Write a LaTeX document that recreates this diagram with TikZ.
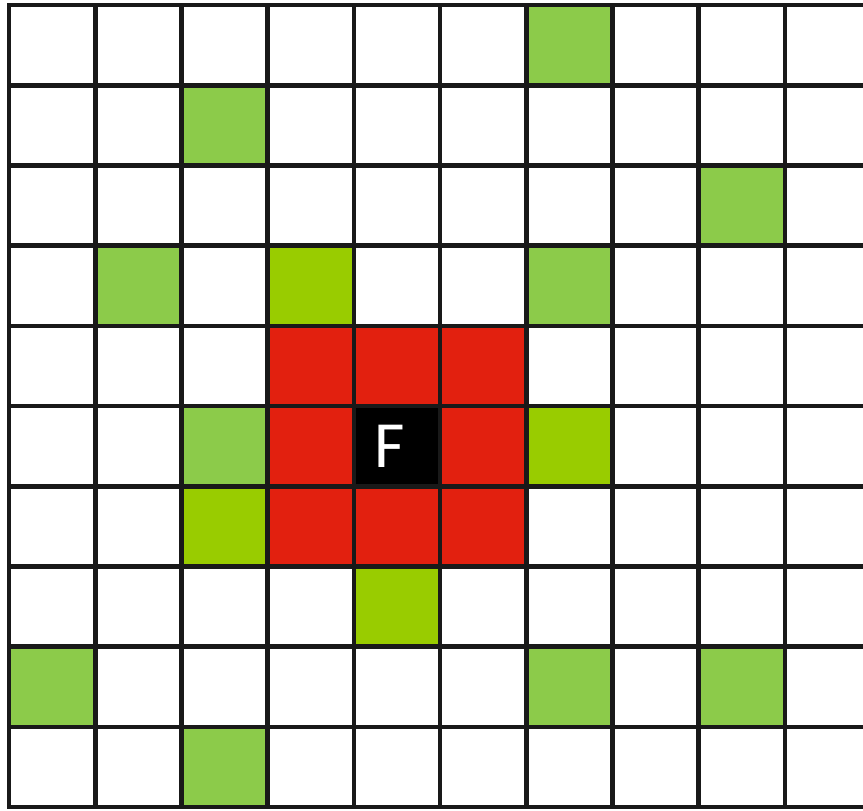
\documentclass[tikz,border=0pt]{standalone}
\usepackage{fontspec}
\newfontfamily\labelfont{Carlito}
\definecolor{softgreen}{HTML}{8CCB4A}
\definecolor{limegreen}{HTML}{99CC00}
\definecolor{cellred}{HTML}{E2200F}
\tikzset{
  gridline/.style={line width=2.3pt, draw=black!90},
  softcell/.style={fill=softgreen},
  limecell/.style={fill=limegreen},
  redcell/.style={fill=cellred},
}
\begin{document}
\begin{tikzpicture}[x=0.5pt,y=-0.5pt]
\useasboundingbox (0,0) rectangle (863,810);
\fill[white] (0,0) rectangle (863,810);
\def\cw{86.2}
\def\ch{80.2}
\def\ox{9}
\def\oy{5}
% soft green cells (col,row)
\foreach \c/\r in {6/0,2/1,8/2,1/3,6/3,2/5,0/8,6/8,8/8,2/9}
  \path[softcell] ({\ox+\c*\cw},{\oy+\r*\ch}) rectangle ++(\cw,\ch);
% lime green cells
\foreach \c/\r in {3/3,6/5,2/6,4/7}
  \path[limecell] ({\ox+\c*\cw},{\oy+\r*\ch}) rectangle ++(\cw,\ch);
% red cells
\foreach \c/\r in {3/4,4/4,5/4,3/5,5/5,3/6,4/6,5/6}
  \path[redcell] ({\ox+\c*\cw},{\oy+\r*\ch}) rectangle ++(\cw,\ch);
% black cell
\path[fill=black] ({\ox+4*\cw},{\oy+5*\ch}) rectangle ++(\cw,\ch);
\node[text=white, font=\labelfont\fontsize{33}{33}\selectfont, inner sep=0pt] (F) at ({\ox+4.42*\cw},{\oy+5.5*\ch}) {F};
% grid
\begin{scope}
\clip (0,0) rectangle (863,810);
\foreach \i in {0,...,10}
  \draw[gridline] ({\ox+\i*\cw},{\oy-2}) -- ({\ox+\i*\cw},{\oy+10*\ch+2});
\foreach \j in {0,...,10}
  \draw[gridline] ({\ox-2},{\oy+\j*\ch}) -- ({\ox+10*\cw+2},{\oy+\j*\ch});
\end{scope}
\end{tikzpicture}
\end{document}
